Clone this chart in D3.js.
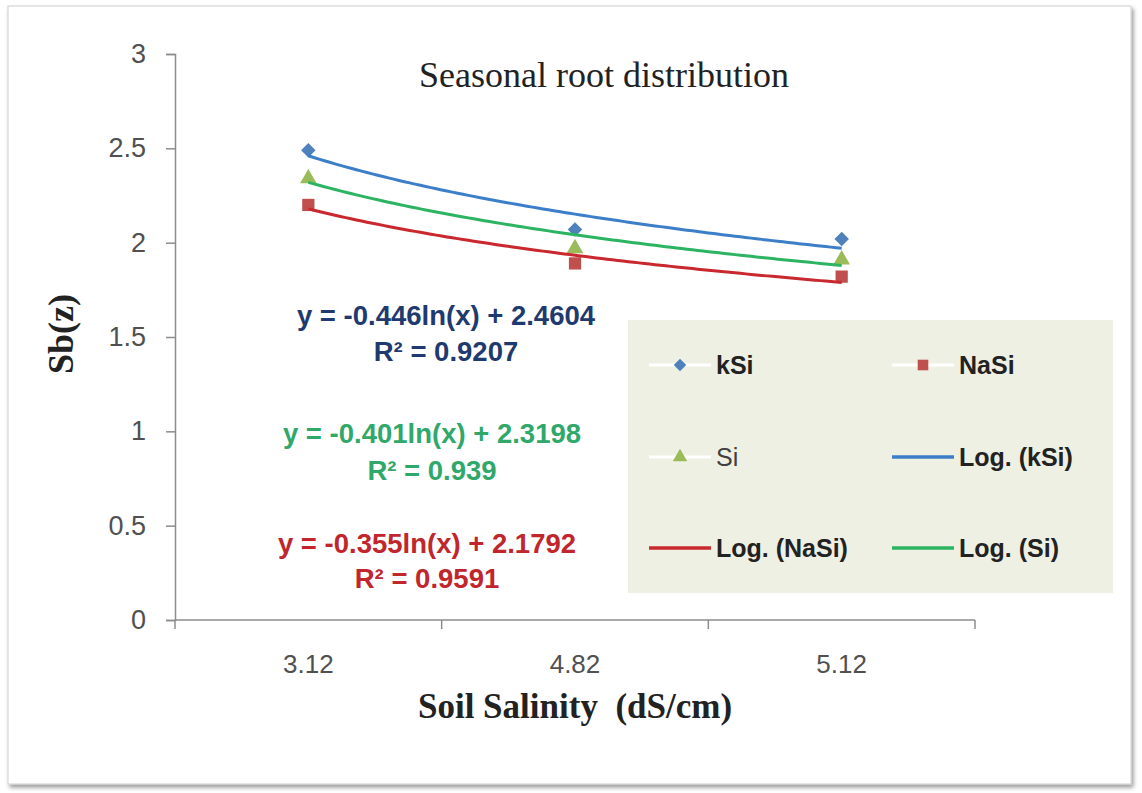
<!DOCTYPE html>
<html>
<head>
<meta charset="utf-8">
<script src="https://cdn.jsdelivr.net/npm/d3@7"></script>
<style>
  html, body { margin: 0; padding: 0; background: #ffffff; }
  svg { display: block; }
</style>
</head>
<body>
<svg id="chart" width="1142" height="793"></svg>
<script>
// ---- data ----
const categories = ["3.12", "4.82", "5.12"];
const kSi  = [2.49, 2.07, 2.02];
const NaSi = [2.20, 1.89, 1.82];
const Si   = [2.34, 1.97, 1.91];
const yTicks = [0, 0.5, 1, 1.5, 2, 2.5, 3];
// log trendline coefficients (y = a ln(x) + b), as printed on the chart
const trendA = { kSi: -0.446, NaSi: -0.355, Si: -0.401 };
const trendB = { kSi: 2.4604, NaSi: 2.1792, Si: 2.3198 };
const trendR2 = { kSi: "0.9207", NaSi: "0.9591", Si: "0.939" };

const svg = d3.select("#chart");

// outer frame with soft shadow
const defs = svg.append("defs");
const f = defs.append("filter").attr("id", "shadow").attr("x", "-5%").attr("y", "-5%").attr("width", "110%").attr("height", "110%");
f.append("feDropShadow").attr("dx", 2).attr("dy", 3).attr("stdDeviation", 2).attr("flood-color", "#000").attr("flood-opacity", 0.4);
svg.append("rect").attr("x", 8).attr("y", 6).attr("width", 1123).attr("height", 778)
  .attr("fill", "#ffffff").attr("stroke", "#cfcfcf").attr("stroke-width", 1).attr("filter", "url(#shadow)");

// plot area
const pLeft = 175, pRight = 975, pTop = 54, pBottom = 620;
const x = d3.scaleBand().domain(categories).range([pLeft, pRight]).padding(0);
const y = d3.scaleLinear().domain([0, 3]).range([pBottom, pTop]);
const xi = d3.scaleLinear().domain([1, 3]).range([x(categories[0]) + x.bandwidth() / 2, x(categories[2]) + x.bandwidth() / 2]);

const axisColor = "#8c8c8c";
const tickFont = "'Liberation Sans', Arial, sans-serif";

// y axis
const yAxis = svg.append("g").attr("transform", `translate(${pLeft},0)`)
  .call(d3.axisLeft(y).tickValues(yTicks).tickSize(9).tickPadding(20).tickFormat(d => d3.format("")(d)));
yAxis.select(".domain").attr("stroke", axisColor).attr("stroke-width", 1.5);
yAxis.selectAll(".tick line").attr("stroke", axisColor).attr("stroke-width", 1.5);
yAxis.selectAll(".tick text").attr("fill", "#505050").style("font-family", tickFont).style("font-size", "27px");

// x axis (ticks between categories)
const xAxisG = svg.append("g");
xAxisG.append("line").attr("x1", pLeft).attr("x2", pRight).attr("y1", pBottom).attr("y2", pBottom)
  .attr("stroke", axisColor).attr("stroke-width", 1.5);
const edges = categories.map(c => x(c)).concat([x(categories[categories.length - 1]) + x.bandwidth()]);
xAxisG.selectAll("line.tk").data(edges).enter().append("line").attr("class", "tk")
  .attr("x1", d => d).attr("x2", d => d).attr("y1", pBottom).attr("y2", pBottom + 9)
  .attr("stroke", axisColor).attr("stroke-width", 1.5);
xAxisG.selectAll("text").data(categories).enter().append("text")
  .attr("x", d => x(d) + x.bandwidth() / 2).attr("y", 673)
  .attr("text-anchor", "middle").attr("fill", "#505050")
  .style("font-family", tickFont).style("font-size", "26px").text(d => d);

// titles
svg.append("text").attr("x", 604).attr("y", 87).attr("text-anchor", "middle")
  .style("font-family", "'Liberation Serif', 'Times New Roman', serif").style("font-size", "36px")
  .attr("fill", "#222").text("Seasonal root distribution");
svg.append("text").attr("x", 575).attr("y", 718).attr("text-anchor", "middle")
  .style("font-family", "'Liberation Serif', 'Times New Roman', serif").style("font-size", "35px").style("font-weight", "bold")
  .style("white-space", "pre").attr("xml:space", "preserve")
  .attr("fill", "#222").text("Soil Salinity  (dS/cm)");
svg.append("text").attr("transform", "translate(73,334) rotate(-90)").attr("text-anchor", "middle")
  .style("font-family", "'Liberation Serif', 'Times New Roman', serif").style("font-size", "36px").style("font-weight", "bold")
  .attr("fill", "#222").text("Sb(z)");

// series definitions
const series = [
  { key: "kSi",  values: kSi,  marker: "diamond",  mColor: "#4F81BD", tColor: "#3C7FC8", eColor: "#1F3A6E" },
  { key: "NaSi", values: NaSi, marker: "square",   mColor: "#C0504D", tColor: "#C8282E", eColor: "#C0262C" },
  { key: "Si",   values: Si,   marker: "triangle", mColor: "#9BBB59", tColor: "#2DB462", eColor: "#2FA86A" }
];
const symType = { diamond: d3.symbolSquare, square: d3.symbolSquare, triangle: d3.symbolTriangle };
const symSize = { diamond: 105, square: 150, triangle: 120 };
const symRot = { diamond: 45, square: 0, triangle: 0 };

// markers
series.forEach(s => {
  svg.append("g").selectAll("path").data(s.values).enter().append("path")
    .attr("d", d3.symbol().type(symType[s.marker]).size(symSize[s.marker]))
    .attr("transform", (d, i) => `translate(${x(categories[i]) + x.bandwidth() / 2},${y(d)}) rotate(${symRot[s.marker]})`)
    .attr("fill", s.mColor);
});

// trendlines (drawn from the printed log-fit equations)
const line = d3.line().x(d => xi(d[0])).y(d => y(d[1])).curve(d3.curveLinear);
const tGrid = d3.range(0, 101).map(i => 1 + i * 0.02);
const trendOrder = ["NaSi", "Si", "kSi"];
trendOrder.forEach(k => {
  const s = series.find(q => q.key === k);
  svg.append("path").datum(tGrid.map(t => [t, trendA[k] * Math.log(t) + trendB[k]]))
    .attr("d", line).attr("fill", "none").attr("stroke", s.tColor).attr("stroke-width", 3);
});

// equations
const eqFont = "'Liberation Sans', Arial, sans-serif";
const eqPos = { kSi: [446, 325, 361], Si: [432, 443, 480], NaSi: [427, 553, 588] };
series.forEach(s => {
  const p = eqPos[s.key];
  const a = trendA[s.key], b = trendB[s.key];
  svg.append("text").attr("x", p[0]).attr("y", p[1]).attr("text-anchor", "middle")
    .attr("fill", s.eColor).style("font-family", eqFont).style("font-size", "27.5px").style("font-weight", "bold")
    .text(`y = ${a}ln(x) + ${b}`);
  svg.append("text").attr("x", p[0]).attr("y", p[2]).attr("text-anchor", "middle")
    .attr("fill", s.eColor).style("font-family", eqFont).style("font-size", "27.5px").style("font-weight", "bold")
    .text(`R\u00B2 = ${trendR2[s.key]}`);
});

// legend
const lg = svg.append("g");
lg.append("rect").attr("x", 628).attr("y", 320).attr("width", 485).attr("height", 273).attr("fill", "#EEF0E4");
const legendItems = [
  { label: "kSi", kind: "marker", s: series[0], bold: true },
  { label: "NaSi", kind: "marker", s: series[1], bold: true },
  { label: "Si", kind: "marker", s: series[2], bold: false },
  { label: "Log. (kSi)", kind: "line", s: series[0], bold: true },
  { label: "Log. (NaSi)", kind: "line", s: series[1], bold: true },
  { label: "Log. (Si)", kind: "line", s: series[2], bold: true }
];
const colX = [649, 892], rowY = [365, 457, 548];
legendItems.forEach((it, i) => {
  const cx = colX[i % 2], cy = rowY[Math.floor(i / 2)];
  const g = lg.append("g").attr("transform", `translate(${cx},${cy})`);
  if (it.kind === "marker") {
    g.append("line").attr("x1", 0).attr("x2", 62).attr("y1", 0).attr("y2", 0).attr("stroke", "#ffffff").attr("stroke-width", 3);
    g.append("path").attr("d", d3.symbol().type(symType[it.s.marker]).size(symSize[it.s.marker] * 0.75))
      .attr("transform", `translate(31,0) rotate(${symRot[it.s.marker]})`).attr("fill", it.s.mColor);
  } else {
    g.append("line").attr("x1", 0).attr("x2", 62).attr("y1", 0).attr("y2", 0).attr("stroke", it.s.tColor).attr("stroke-width", 3.5);
  }
  g.append("text").attr("x", 67).attr("y", 9).attr("fill", it.bold ? "#222" : "#404040")
    .style("font-family", eqFont).style("font-size", "25px").style("font-weight", it.bold ? "bold" : "normal")
    .text(it.label);
});
</script>
</body>
</html>
